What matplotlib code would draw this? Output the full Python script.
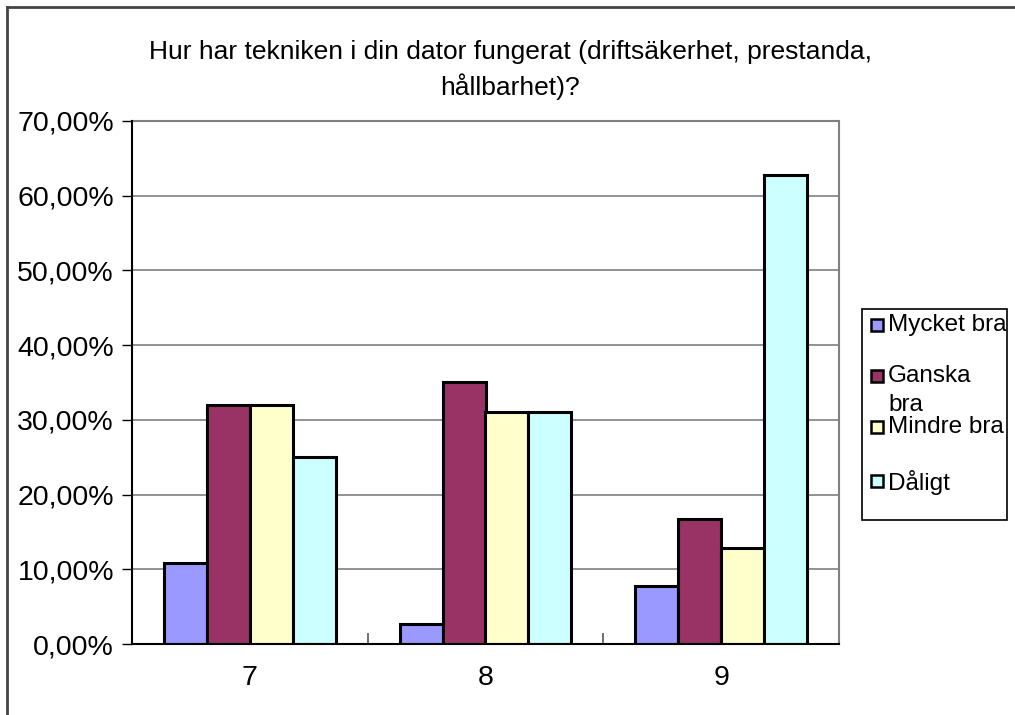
import matplotlib
matplotlib.use("Agg")
import matplotlib.pyplot as plt
from matplotlib.patches import Rectangle
from matplotlib.lines import Line2D
import numpy as np

plt.rcParams['font.family'] = ['Liberation Sans', 'DejaVu Sans']

categories = ["7", "8", "9"]
series = ["Mycket bra", "Ganska bra", "Mindre bra", "Dåligt"]
legend_labels = ["Mycket bra", "Ganska\nbra", "Mindre bra", "Dåligt"]
mycket_bra = [10.9, 2.7, 7.7]
ganska_bra = [32.0, 35.1, 16.7]
mindre_bra = [32.0, 31.1, 12.8]
daligt = [25.0, 31.1, 62.8]
values = [mycket_bra, ganska_bra, mindre_bra, daligt]
colors = ["#9999FF", "#993366", "#FFFFCC", "#CCFFFF"]
yticks = [0, 10, 20, 30, 40, 50, 60, 70]
ytick_labels = ["0,00%", "10,00%", "20,00%", "30,00%", "40,00%", "50,00%", "60,00%", "70,00%"]
title = "Hur har tekniken i din dator fungerat (driftsäkerhet, prestanda,\nhållbarhet)?"

W, H = 1015, 715
fig = plt.figure(figsize=(W / 100, H / 100), dpi=100)

# plot area in pixels
left, right, top, bottom = 132, 839, 121, 644
ax = fig.add_axes([left / W, 1 - bottom / H, (right - left) / W, (bottom - top) / H])

n = len(series)
bw = 1 / (n + 1.5)
x = np.arange(len(categories))
for i, (vals, c) in enumerate(zip(values, colors)):
    ax.bar(x + (i - (n - 1) / 2) * bw, vals, width=bw, color=c,
           edgecolor="black", linewidth=2.2, zorder=3)

ax.set_xlim(-0.5, len(categories) - 0.5)
ax.set_ylim(0, 70)
ax.set_yticks(yticks)
ax.set_yticklabels(ytick_labels, fontsize=20.5)
ax.yaxis.grid(True, color="#808080", linewidth=1.2, zorder=1)
ax.tick_params(axis="y", direction="out", length=7, width=1, pad=6, color="black")

# x: category labels at centers, tick marks at boundaries (inside)
ax.set_xticks(x)
ax.set_xticklabels(categories, fontsize=20.5)
ax.set_xticks(np.arange(len(categories) - 1) + 0.5, minor=True)
ax.tick_params(axis="x", which="major", length=0, pad=15)
ax.tick_params(axis="x", which="minor", direction="in", length=8, width=1.2, color="#555555")

for s in ["top", "right"]:
    ax.spines[s].set_color("#808080")
    ax.spines[s].set_linewidth(1.5)
for s in ["left", "bottom"]:
    ax.spines[s].set_color("black")
    ax.spines[s].set_linewidth(1.5)
ax.spines["left"].set_zorder(4)
ax.spines["bottom"].set_zorder(4)

# title
fig.text(510 / W, 1 - 70 / H, title, ha="center", va="center", fontsize=19,
         linespacing=1.4)

# outer chart border (left and top visible)
fig.add_artist(Line2D([7 / W, 7 / W], [0, 1 - 7 / H], transform=fig.transFigure,
                      color="#444444", linewidth=2))
fig.add_artist(Line2D([7 / W, 1], [1 - 7 / H, 1 - 7 / H], transform=fig.transFigure,
                      color="#444444", linewidth=2))

# legend (manual)
fig.patches.append(Rectangle((862 / W, 1 - 520 / H), (1007 - 862) / W, (520 - 309) / H,
                             transform=fig.transFigure, fill=True, facecolor="white",
                             edgecolor="black", linewidth=1.2))
entry_y = [325, 376, 427, 481]
for lbl, c, yy in zip(legend_labels, colors, entry_y):
    sq = 12
    fig.patches.append(Rectangle((871 / W, 1 - (yy + sq / 2) / H), sq / W, sq / H,
                                 transform=fig.transFigure, facecolor=c,
                                 edgecolor="black", linewidth=1.8))
    fig.text(888 / W, 1 - (yy - 11) / H, lbl, ha="left", va="top", fontsize=17.5,
             linespacing=1.4)

fig.savefig("out.png", dpi=100)
